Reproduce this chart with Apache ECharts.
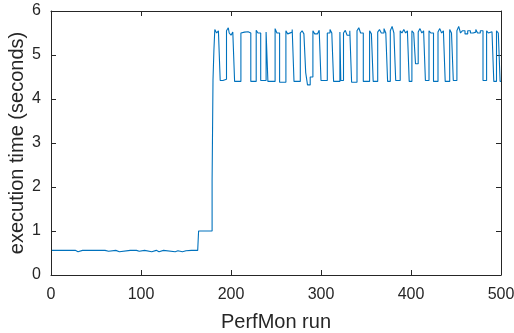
<!DOCTYPE html>
<html>
<head>
<meta charset="utf-8">
<script src="https://cdn.jsdelivr.net/npm/echarts@6/dist/echarts.min.js"></script>
<style>html,body{margin:0;padding:0;background:#fff}#c{width:514px;height:333px}</style>
</head>
<body>
<div id="c"></div>
<script>
// breakpoints of the measured series (value holds until the next run)
const runs = [1,4,6,12,14,27,30,35,37,44,46,52,54,60,64,72,76,88,90,95,98,104,112,117,120,125,138,141,146,150,152,156,158,163,
164,168,170,173,175,179,180,181,182,
184,186,188,191,195,197,198,200,202,204,211,213,215,217,219,222,228,230,233,239,241,249,251,254,261,263,265,268,270,277,279,281,283,285,288,291,293,296,298,300,307,310,312,314,321,322,325,327,329,332,334,340,342,344,347,354,356,358,363,365,367,370,372,374,377,379,381,383,388,390,392,394,396,398,401,403,405,408,410,412,414,416,420,422,425,430,432,434,436,438,443,445,447,451,453,455,457,460,463,466,469,472,474,477,480,484,486,488,490,492,495,497,499,500];
const times = [0.56,0.53,0.56,0.53,0.56,0.53,0.56,0.53,0.56,0.53,0.56,0.53,0.56,0.54,0.56,0.53,0.56,0.53,0.56,0.54,0.56,0.53,0.56,0.53,0.56,0.53,0.55,0.53,0.55,0.53,0.56,0.53,0.56,0.56,
1.0,0.97,1.0,0.97,1.0,2.15,4.43,5.1,5.58,
5.5,5.55,4.42,4.45,5.55,5.62,5.5,5.45,5.52,4.4,5.5,5.52,5.48,5.53,5.5,4.4,5.56,5.5,4.42,5.52,4.4,5.6,5.5,4.38,5.55,5.48,5.52,5.58,4.4,5.5,5.55,5.48,4.6,4.32,4.5,5.55,5.48,5.52,5.56,4.42,5.5,5.58,5.5,4.4,5.52,4.42,5.5,5.56,5.45,5.55,4.38,5.55,5.62,5.5,4.4,5.55,5.48,4.4,5.52,5.58,5.5,5.6,5.5,4.4,5.55,5.65,5.5,4.42,5.55,5.5,5.58,5.5,5.55,4.4,5.55,5.5,4.8,5.52,5.6,5.5,5.55,4.42,5.55,5.5,4.4,5.52,5.6,5.5,5.55,4.4,5.58,5.5,4.42,5.55,5.65,5.5,5.55,5.48,5.55,5.5,5.52,5.58,5.5,5.55,4.42,5.55,5.5,5.53,5.5,4.4,5.55,5.5,4.4,4.4];
const xTicks = [0,100,200,300,400,500];
const yTicks = [0,1,2,3,4,5,6];

const data = runs.map((r,i)=>[r,times[i]]);
const axisCol = '#262626';
const font = 'Liberation Sans, Arial, sans-serif';
const baseAxis = {
  axisLine:{show:true,onZero:false,lineStyle:{color:axisCol,width:1}},
  axisTick:{show:true,inside:true,length:5,lineStyle:{color:axisCol,width:1}},
  splitLine:{show:false}
};
const chart = echarts.init(document.getElementById('c'),null,{renderer:'canvas'});
chart.setOption({
  animation:false,
  backgroundColor:'#fff',
  grid:{left:51,right:13,top:11,bottom:58,containLabel:false,outerBoundsMode:'none'},
  xAxis:[
    Object.assign({type:'value',position:'bottom',min:xTicks[0],max:xTicks[xTicks.length-1],interval:100,
      name:'PerfMon run',nameLocation:'middle',nameGap:37,nameMoveOverlap:false,
      nameTextStyle:{color:axisCol,fontSize:20,fontFamily:font},
      axisLabel:{color:axisCol,fontSize:16,fontFamily:font,margin:12}},baseAxis),
    Object.assign({type:'value',position:'top',min:0,max:500,interval:100,axisLabel:{show:false}},baseAxis)
  ],
  yAxis:[
    Object.assign({type:'value',position:'left',min:yTicks[0],max:yTicks[yTicks.length-1],interval:1,
      name:'execution time (seconds)',nameLocation:'middle',nameGap:24,nameMoveOverlap:false,
      nameTextStyle:{color:axisCol,fontSize:20,fontFamily:font},
      axisLabel:{color:axisCol,fontSize:16,fontFamily:font,margin:10}},baseAxis),
    Object.assign({type:'value',position:'right',min:0,max:6,interval:1,axisLabel:{show:false}},baseAxis)
  ],
  series:[{
    type:'line',
    data:data,
    step:'end',
    showSymbol:false,
    symbol:'none',
    lineStyle:{color:'#0072BD',width:1.1},
    xAxisIndex:0,yAxisIndex:0
  }]
});
</script>
</body>
</html>
